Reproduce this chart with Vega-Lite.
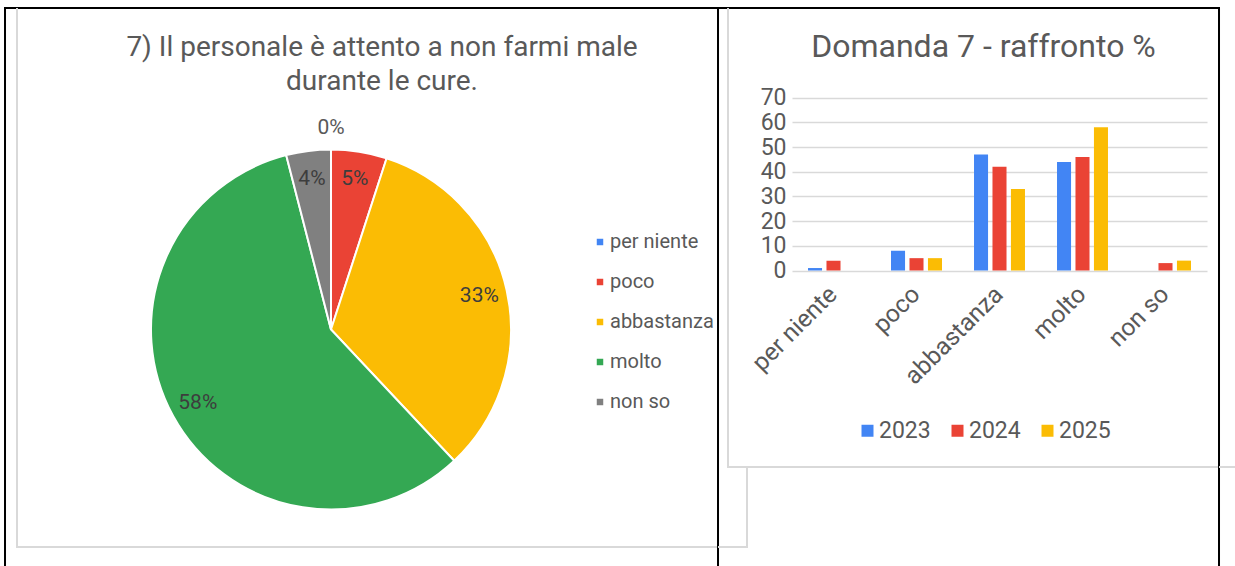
{
  "$schema": "https://vega.github.io/schema/vega-lite/v6.json",
  "background": "white",
  "padding": {"left": 4, "top": 7, "right": 0, "bottom": 0},
  "bounds": "flush",
  "spacing": 0,
  "config": {
    "font": "Roboto",
    "view": {"stroke": null},
    "title": {"font": "Roboto", "fontWeight": "normal", "color": "#595959"},
    "axis": {"labelFont": "Roboto", "labelColor": "#595959"},
    "legend": {"labelFont": "Roboto", "labelColor": "#595959"}
  },
  "resolve": {"scale": {"color": "independent"}, "legend": {"color": "independent"}},
  "vconcat": [
    {"width": 1214, "height": 0.01, "data": {"values": []}, "mark": {"type": "point"}, "view": {"stroke": "black", "strokeWidth": 2}},
    {
      "bounds": "flush", "spacing": 11,
      "resolve": {"scale": {"color": "independent"}, "legend": {"color": "independent"}},
      "hconcat": [
        {"width": 0.01, "height": 570, "data": {"values": []}, "mark": {"type": "point"}, "view": {"stroke": "black", "strokeWidth": 2}},
        {
          "bounds": "flush", "spacing": 0,
          "resolve": {"scale": {"color": "independent"}, "legend": {"color": "independent"}},
          "hconcat": [
            {"width": 0.01, "height": 538, "data": {"values": []}, "mark": {"type": "point"}, "view": {"stroke": "#d9d9d9", "strokeWidth": 2}},
            {
              "bounds": "flush", "spacing": 626,
              "resolve": {"scale": {"color": "independent"}, "legend": {"color": "independent"}},
              "hconcat": [
                {
                  "bounds": "flush", "spacing": 0,
                  "resolve": {"scale": {"color": "independent"}, "legend": {"color": "independent"}},
                  "vconcat": [
                    {"width": 626, "height": 103, "data": {"values": []}, "mark": {"type": "point"}},
                    {
                      "width": 626,
                      "height": 435,
                      "data": {"values": [
                        {"cat": "per niente", "k": 1, "pct": 0, "label": "0%"},
                        {"cat": "poco", "k": 2, "pct": 5, "label": "5%"},
                        {"cat": "abbastanza", "k": 3, "pct": 33, "label": "33%"},
                        {"cat": "molto", "k": 4, "pct": 58, "label": "58%"},
                        {"cat": "non so", "k": 5, "pct": 4, "label": "4%"}
                      ]},
                      "title": {
                        "text": ["7) Il personale è attento a non farmi male", "durante le cure."],
                        "fontSize": 28,
                        "lineHeight": 34,
                        "anchor": "middle",
                        "dx": 51,
                        "offset": 16
                      },
                      "encoding": {
                        "theta": {"field": "pct", "type": "quantitative", "stack": true},
                        "order": {"field": "k", "type": "quantitative"},
                        "detail": {"field": "cat", "type": "nominal"}
                      },
                      "layer": [
                        {
                          "mark": {"type": "arc", "outerRadius": 180, "stroke": "white", "strokeWidth": 2},
                          "encoding": {
                            "color": {
                              "field": "cat",
                              "type": "nominal",
                              "scale": {
                                "domain": ["per niente", "poco", "abbastanza", "molto", "non so"],
                                "range": ["#4285F4", "#EA4335", "#FBBC04", "#34A853", "#808080"]
                              },
                              "legend": {
                                "title": null,
                                "orient": "none",
                                "legendX": 572,
                                "legendY": 120,
                                "symbolType": "square",
                                "symbolSize": 42,
                                "symbolStrokeWidth": 0,
                                "labelFontSize": 20,
                                "labelOffset": 0,
                                "rowPadding": 20
                              }
                            }
                          }
                        },
                        {
                          "mark": {"type": "text", "radius": 152, "fontSize": 21, "color": "#3d3d3d", "font": "Roboto"},
                          "encoding": {
                            "text": {"condition": {"test": "datum.pct > 0", "field": "label", "type": "nominal"}, "value": ""}
                          }
                        },
                        {
                          "mark": {"type": "text", "radius": 202, "fontSize": 21, "color": "#595959", "font": "Roboto"},
                          "encoding": {
                            "text": {"condition": {"test": "datum.pct == 0", "field": "label", "type": "nominal"}, "value": ""}
                          }
                        }
                      ]
                    },
                    {"width": 626, "height": 0.01, "data": {"values": []}, "mark": {"type": "point"}, "view": {"stroke": "#d9d9d9", "strokeWidth": 2}}
                  ]
                },
                {
                  "bounds": "flush", "spacing": 74,
                  "resolve": {"scale": {"color": "independent"}, "legend": {"color": "independent"}},
                  "hconcat": [
                    {
                      "bounds": "flush", "spacing": 0,
                      "vconcat": [
                        {"width": 74, "height": 538, "data": {"values": []}, "mark": {"type": "point"}},
                        {"width": 74, "height": 0.01, "data": {"values": []}, "mark": {"type": "point"}, "view": {"stroke": "#d9d9d9", "strokeWidth": 2}}
                      ]
                    },
                    {
                      "bounds": "flush", "spacing": 0,
                      "resolve": {"scale": {"color": "independent"}, "legend": {"color": "independent"}},
                      "hconcat": [
                        {"width": 0.01, "height": 570, "data": {"values": []}, "mark": {"type": "point"}, "view": {"stroke": "black", "strokeWidth": 2}},
                        {
                          "bounds": "flush", "spacing": 9,
                          "resolve": {"scale": {"color": "independent"}, "legend": {"color": "independent"}},
                          "hconcat": [
                            {
                              "bounds": "flush", "spacing": 0,
                              "vconcat": [
                                {"width": 9, "height": 538, "data": {"values": []}, "mark": {"type": "point"}},
                                {"width": 9, "height": 0.01, "data": {"values": []}, "mark": {"type": "point"}, "view": {"stroke": "#d9d9d9", "strokeWidth": 2}}
                              ]
                            },
                            {
                              "bounds": "flush", "spacing": 0,
                              "resolve": {"scale": {"color": "independent"}, "legend": {"color": "independent"}},
                              "hconcat": [
                                {"width": 0.01, "height": 458, "data": {"values": []}, "mark": {"type": "point"}, "view": {"stroke": "#d9d9d9", "strokeWidth": 2}},
                                {
                                  "bounds": "flush", "spacing": 18,
                                  "resolve": {"scale": {"color": "independent"}, "legend": {"color": "independent"}},
                                  "hconcat": [
                                    {
                                      "bounds": "flush", "spacing": 0,
                                      "vconcat": [
                                        {"width": 18, "height": 458, "data": {"values": []}, "mark": {"type": "point"}},
                                        {"width": 18, "height": 0.01, "data": {"values": []}, "mark": {"type": "point"}, "view": {"stroke": "#d9d9d9", "strokeWidth": 2}},
                                        {"width": 18, "height": 79, "data": {"values": []}, "mark": {"type": "point"}},
                                        {"width": 18, "height": 0.01, "data": {"values": []}, "mark": {"type": "point"}, "view": {"stroke": "#d9d9d9", "strokeWidth": 2}}
                                      ]
                                    },
                                    {
                                      "bounds": "flush", "spacing": 0,
                                      "resolve": {"scale": {"color": "independent"}, "legend": {"color": "independent"}},
                                      "hconcat": [
                                        {
                                          "bounds": "flush", "spacing": 0,
                                          "vconcat": [
                                            {"width": 1, "height": 458, "data": {"values": []}, "mark": {"type": "point"}},
                                            {"width": 0.01, "height": 80, "data": {"values": []}, "mark": {"type": "point"}, "view": {"stroke": "#d9d9d9", "strokeWidth": 2}}
                                          ]
                                        },
                                        {
                                          "bounds": "flush", "spacing": 45,
                                          "resolve": {"scale": {"color": "independent"}, "legend": {"color": "independent"}},
                                          "hconcat": [
                                            {
                                              "bounds": "flush", "spacing": 0,
                                              "vconcat": [
                                                {"width": 45, "height": 458, "data": {"values": []}, "mark": {"type": "point"}},
                                                {"width": 45, "height": 0.01, "data": {"values": []}, "mark": {"type": "point"}, "view": {"stroke": "#d9d9d9", "strokeWidth": 2}}
                                              ]
                                            },
                                            {
                                              "bounds": "flush", "spacing": 415,
                                              "resolve": {"scale": {"color": "independent"}, "legend": {"color": "independent"}},
                                              "hconcat": [
                                                {
                                                  "bounds": "flush", "spacing": 0,
                                                  "resolve": {"scale": {"color": "independent"}, "legend": {"color": "independent"}},
                                                  "vconcat": [
                                                    {
                                                      "width": 415,
                                                      "height": 261.5,
                                                      "data": {"values": [
                                                        {"cat": "per niente", "year": "2023", "v": 1},
                                                        {"cat": "per niente", "year": "2024", "v": 4},
                                                        {"cat": "per niente", "year": "2025", "v": 0},
                                                        {"cat": "poco", "year": "2023", "v": 8},
                                                        {"cat": "poco", "year": "2024", "v": 5},
                                                        {"cat": "poco", "year": "2025", "v": 5},
                                                        {"cat": "abbastanza", "year": "2023", "v": 47},
                                                        {"cat": "abbastanza", "year": "2024", "v": 42},
                                                        {"cat": "abbastanza", "year": "2025", "v": 33},
                                                        {"cat": "molto", "year": "2023", "v": 44},
                                                        {"cat": "molto", "year": "2024", "v": 46},
                                                        {"cat": "molto", "year": "2025", "v": 58},
                                                        {"cat": "non so", "year": "2023", "v": 0},
                                                        {"cat": "non so", "year": "2024", "v": 3},
                                                        {"cat": "non so", "year": "2025", "v": 4}
                                                      ]},
                                                      "title": {
                                                        "text": "Domanda 7 - raffronto %",
                                                        "fontSize": 32,
                                                        "anchor": "middle",
                                                        "dx": -16,
                                                        "offset": -55
                                                      },
                                                      "mark": {"type": "bar"},
                                                      "encoding": {
                                                        "x": {
                                                          "field": "cat",
                                                          "type": "nominal",
                                                          "sort": ["per niente", "poco", "abbastanza", "molto", "non so"],
                                                          "scale": {"paddingInner": 0.386, "paddingOuter": 0.193},
                                                          "axis": {"title": null, "labelAngle": -45, "labelAlign": "right", "labelBaseline": "middle", "labelFontSize": 24.5, "domain": false, "ticks": false, "labelPadding": 20}
                                                        },
                                                        "xOffset": {
                                                          "field": "year",
                                                          "type": "nominal",
                                                          "scale": {"paddingInner": 0.24, "paddingOuter": 0}
                                                        },
                                                        "y": {
                                                          "field": "v",
                                                          "type": "quantitative",
                                                          "scale": {"domain": [0, 105.93], "nice": false},
                                                          "axis": {
                                                            "title": null,
                                                            "values": [0, 10, 20, 30, 40, 50, 60, 70],
                                                            "domain": false,
                                                            "ticks": false,
                                                            "gridColor": "#d9d9d9",
                                                            "gridWidth": 1.5,
                                                            "labelFontSize": 23,
                                                            "labelPadding": 6
                                                          }
                                                        },
                                                        "color": {
                                                          "field": "year",
                                                          "type": "nominal",
                                                          "scale": {"domain": ["2023", "2024", "2025"], "range": ["#4285F4", "#EA4335", "#FBBC04"]},
                                                          "legend": {
                                                            "title": null,
                                                            "orient": "none",
                                                            "direction": "horizontal",
                                                            "legendX": 64,
                                                            "legendY": 410,
                                                            "symbolType": "square",
                                                            "symbolSize": 144,
                                                            "symbolStrokeWidth": 0,
                                                            "labelFontSize": 23,
                                                            "labelOffset": 0,
                                                            "columnPadding": 15
                                                          }
                                                        }
                                                      }
                                                    },
                                                    {"width": 415, "height": 196, "data": {"values": []}, "mark": {"type": "point"}},
                                                    {"width": 415, "height": 0.01, "data": {"values": []}, "mark": {"type": "point"}, "view": {"stroke": "#d9d9d9", "strokeWidth": 2}}
                                                  ]
                                                },
                                                {
                                                  "bounds": "flush", "spacing": 12,
                                                  "resolve": {"scale": {"color": "independent"}, "legend": {"color": "independent"}},
                                                  "hconcat": [
                                                    {
                                                      "bounds": "flush", "spacing": 0,
                                                      "vconcat": [
                                                        {"width": 12, "height": 458, "data": {"values": []}, "mark": {"type": "point"}},
                                                        {"width": 12, "height": 0.01, "data": {"values": []}, "mark": {"type": "point"}, "view": {"stroke": "#d9d9d9", "strokeWidth": 2}}
                                                      ]
                                                    },
                                                    {
                                                      "bounds": "flush", "spacing": 0,
                                                      "hconcat": [
                                                        {"width": 0.01, "height": 570, "data": {"values": []}, "mark": {"type": "point"}, "view": {"stroke": "black", "strokeWidth": 2}},
                                                        {
                                                          "bounds": "flush", "spacing": 0,
                                                          "vconcat": [
                                                            {"width": 20, "height": 458, "data": {"values": []}, "mark": {"type": "point"}},
                                                            {"width": 20, "height": 0.01, "data": {"values": []}, "mark": {"type": "point"}, "view": {"stroke": "#d9d9d9", "strokeWidth": 2}}
                                                          ]
                                                        }
                                                      ]
                                                    }
                                                  ]
                                                }
                                              ]
                                            }
                                          ]
                                        }
                                      ]
                                    }
                                  ]
                                }
                              ]
                            }
                          ]
                        }
                      ]
                    }
                  ]
                }
              ]
            }
          ]
        }
      ]
    }
  ]
}
